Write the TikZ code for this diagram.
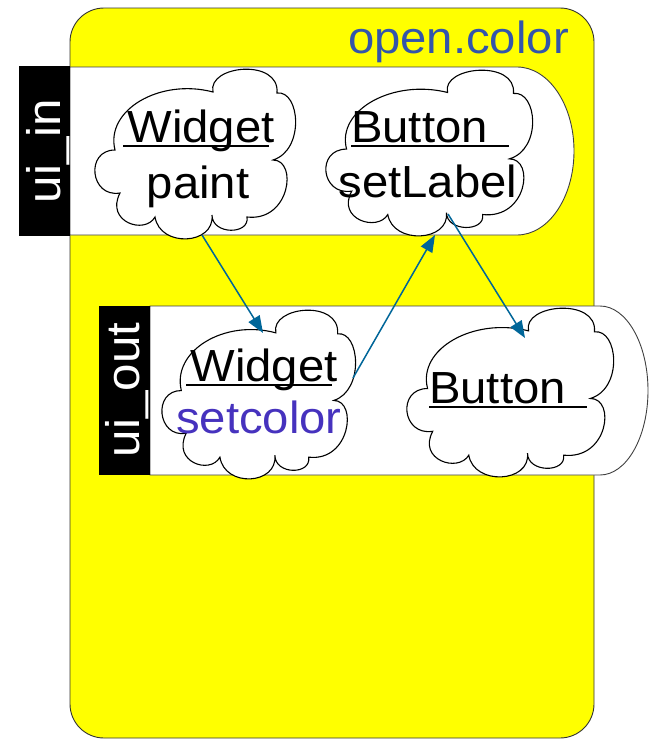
\documentclass[tikz,border=0pt]{standalone}
\usepackage{fontspec}
\setmainfont{Liberation Sans}[FakeStretch=1.05]
\usetikzlibrary{arrows.meta}
\definecolor{ocyellow}{RGB}{255,255,0}
\definecolor{ocblue}{RGB}{51,85,170}
\definecolor{ocpurple}{RGB}{70,50,190}
\definecolor{arrowblue}{RGB}{0,102,153}
\tikzset{
  cloudline/.style={draw=black, fill=white, line width=1.1pt},
  boxline/.style={draw=black!75, line width=0.9pt},
  lbl/.style={inner sep=0pt, font=\fontsize{45}{54}\selectfont},
  sidelbl/.style={inner sep=0pt, rotate=90, anchor=base, text=white, font=\fontsize{47}{56}\selectfont},
  arr/.style={draw=arrowblue, line width=1.5pt, -{Triangle[length=17pt,width=13pt]}},
  ulin/.style={line width=1.8pt}
}
% cloud drawn in a 198 x 171 frame, scaled to w x h, top-left at (x,y)
\newcommand\drawcloud[4]{%
  \begin{scope}[shift={(#1,#2)}, xscale=#3/198, yscale=#4/171]
    \draw[cloudline] (19,81)
      .. controls (9,41) and (64,9) .. (117,23)
      .. controls (111,-4) and (184,-11) .. (181,24)
      .. controls (204,21) and (209,81) .. (177,91)
      .. controls (202,91) and (194,153) .. (151,148)
      .. controls (154,166) and (116,166) .. (116,146)
      .. controls (119,176) and (64,179) .. (59,148)
      .. controls (49,166) and (9,153) .. (24,124)
      .. controls (-6,129) and (-11,81) .. (19,81) -- cycle;
  \end{scope}}
\begin{document}
\begin{tikzpicture}[x=1pt, y=-1pt]
\useasboundingbox (0,0) rectangle (649,739);
% outer package
\draw[fill=ocyellow, draw=black!80, line width=0.9pt, rounded corners=34] (70,8) rectangle (594,738);
\node[lbl, anchor=base east, text=ocblue] (title) at (569,53) {open.color};
% ui_in band
\draw[boxline, fill=white] (70,67) -- (517,67)
  arc[start angle=-90, end angle=90, x radius=57, y radius=84] -- (70,235) -- cycle;
\fill[black] (19,66) rectangle (70,236);
\node[sidelbl] (uiin) at (60,151) {ui\_in};
% ui_out band
\draw[boxline, fill=white] (150,306) -- (600,306)
  arc[start angle=-90, end angle=90, x radius=48, y radius=84.5] -- (150,475) -- cycle;
\fill[black] (99,306) rectangle (150,475);
\node[sidelbl] (uiout) at (139,390) {ui\_out};
% clouds
\drawcloud{96}{69}{198}{171}
\drawcloud{327}{70}{204}{167}
\drawcloud{163}{310}{191}{170}
\drawcloud{408}{308}{204}{170}
% cloud texts
\node[lbl, anchor=base] (w1) at (201,142) {Widget};
\draw[ulin] ([xshift=-4pt,yshift=-4pt]w1.base west) -- ([xshift=-6pt,yshift=-4pt]w1.base east);
\node[lbl, anchor=base] (p1) at (198,198) {paint};
\node[lbl, anchor=base west] (b1) at (351,142) {Button\kern21pt};
\draw[ulin] ([yshift=-4pt]b1.base west) -- ([yshift=-4pt]b1.base east);
\node[lbl, anchor=base] (s1) at (428,197) {setLabel};
\node[lbl, anchor=base] (w2) at (264,381) {Widget};
\draw[ulin] ([xshift=-4pt,yshift=-4pt]w2.base west) -- ([xshift=-6pt,yshift=-4pt]w2.base east);
\node[lbl, anchor=base, text=ocpurple] (c2) at (259,433) {setcolor};
\node[lbl, anchor=base west] (b2) at (429,403) {Button\kern21pt};
\draw[ulin] ([yshift=-4pt]b2.base west) -- ([yshift=-4pt]b2.base east);
% connector ends
\coordinate (paintout) at (202,235);
\coordinate (setcolorin) at (263,333);
\coordinate (setcolorout) at (353,378);
\coordinate (setlabelin) at (435,235);
\coordinate (setlabelout) at (448,214);
\coordinate (buttonin) at (525,338);
\draw[arr] (paintout) -- (setcolorin);
\draw[arr] (setcolorout) -- (setlabelin);
\draw[arr] (setlabelout) -- (buttonin);
\end{tikzpicture}
\end{document}
